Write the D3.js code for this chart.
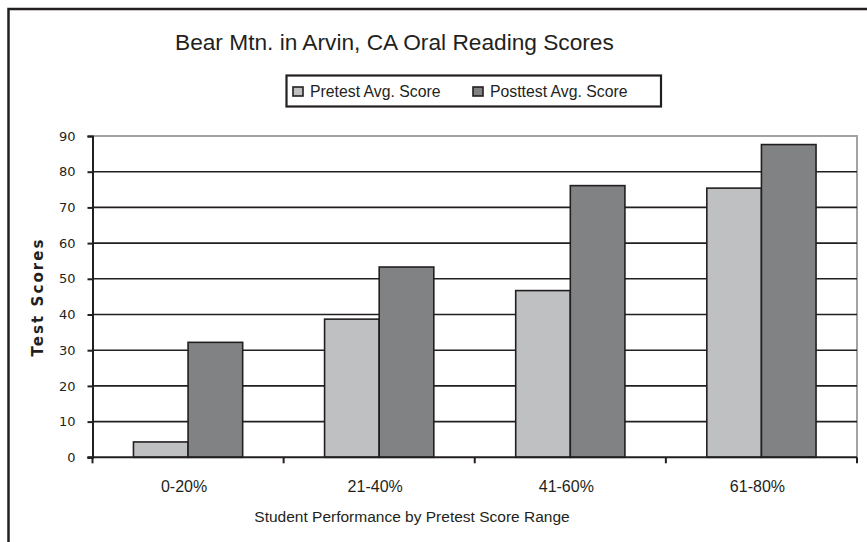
<!DOCTYPE html>
<html>
<head>
<meta charset="utf-8">
<script src="https://cdn.jsdelivr.net/npm/d3@7/dist/d3.min.js"></script>
<style>
  html, body { margin: 0; padding: 0; background: #fff; }
  svg { display: block; }
  text { fill: #231f20; }
</style>
</head>
<body>
<svg id="chart" width="867" height="542"></svg>
<script>
// Score ranges and average scores per series
const categories = ["0-20%", "21-40%", "41-60%", "61-80%"];
const seriesNames = ["Pretest Avg. Score", "Posttest Avg. Score"];
const pretest = [4.3, 38.7, 46.7, 75.4];
const posttest = [32.2, 53.3, 76.1, 87.6];
const yTicks = [0, 10, 20, 30, 40, 50, 60, 70, 80, 90];
const titleText = "Bear Mtn. in Arvin, CA Oral Reading Scores";
const xTitle = "Student Performance by Pretest Score Range";
const yTitle = "Test Scores";

const seriesColors = ["#bfc0c2", "#818284"];
const ink = "#231f20";
const font = "'Liberation Sans', Arial, sans-serif";

const svg = d3.select("#chart");

// Outer frame
svg.append("rect")
  .attr("x", 8.5).attr("y", 9)
  .attr("width", 880).attr("height", 560)
  .attr("fill", "none").attr("stroke", ink).attr("stroke-width", 2.5);

const plot = { left: 92.5, right: 857, top: 136, bottom: 457.3 };

const x = d3.scaleBand().domain(categories).range([plot.left, plot.right]).padding(0);
// Gap width of 150%: two bars share the band with 1.5 bar widths of gap
const barW = x.bandwidth() / 3.5;
const gapOffset = barW * 0.75;
const y = d3.scaleLinear().domain([0, 90]).range([plot.bottom, plot.top]);

// Plot-area border (top and right, grey)
svg.append("path")
  .attr("d", `M${plot.left},${plot.top}H${plot.right}V${plot.bottom}`)
  .attr("fill", "none").attr("stroke", "#a3a3a3").attr("stroke-width", 2);

// Gridlines
svg.append("g").selectAll("line")
  .data(yTicks.filter(t => t > 0 && t < 90))
  .join("line")
  .attr("x1", plot.left).attr("x2", plot.right)
  .attr("y1", d => y(d)).attr("y2", d => y(d))
  .attr("stroke", ink).attr("stroke-width", 1.6);

// Bars
const groups = svg.append("g").selectAll("g")
  .data(categories)
  .join("g")
  .attr("transform", d => `translate(${x(d) + gapOffset},0)`);

[pretest, posttest].forEach((vals, si) => {
  groups.append("rect")
    .attr("x", si * barW)
    .attr("y", (d, i) => y(vals[i]))
    .attr("width", barW)
    .attr("height", (d, i) => y(0) - y(vals[i]))
    .attr("fill", seriesColors[si])
    .attr("stroke", ink).attr("stroke-width", 1.6);
});

// Y axis
const yAxis = svg.append("g")
  .attr("transform", `translate(${plot.left},0)`)
  .call(d3.axisLeft(y).tickValues(yTicks).tickSize(5).tickPadding(12));
yAxis.select(".domain").attr("stroke", ink).attr("stroke-width", 2);
yAxis.selectAll(".tick line").attr("stroke", ink).attr("stroke-width", 2);
yAxis.selectAll(".tick text")
  .attr("font-family", "'DejaVu Sans', sans-serif").attr("font-size", 13)
  .attr("fill", ink);

// X axis with ticks at category boundaries
const xAxis = svg.append("g")
  .attr("transform", `translate(0,${plot.bottom})`);
xAxis.append("line")
  .attr("x1", plot.left - 5).attr("x2", plot.right)
  .attr("stroke", ink).attr("stroke-width", 2);
const bounds = categories.map(c => x(c)).concat([plot.right]);
xAxis.selectAll("line.tick")
  .data(bounds)
  .join("line").attr("class", "tick")
  .attr("x1", d => d).attr("x2", d => d)
  .attr("y1", 0).attr("y2", 6)
  .attr("stroke", ink).attr("stroke-width", 2);
xAxis.selectAll("text")
  .data(categories)
  .join("text")
  .attr("x", d => x(d) + x.bandwidth() / 2 - 4)
  .attr("y", 35)
  .attr("text-anchor", "middle")
  .attr("font-family", font).attr("font-size", 16)
  .text(d => d);

// Titles
svg.append("text")
  .attr("x", 175).attr("y", 50)
  .attr("font-family", font).attr("font-size", 22.7)
  .text(titleText);

svg.append("text")
  .attr("x", 412).attr("y", 522)
  .attr("text-anchor", "middle")
  .attr("font-family", font).attr("font-size", 15.5)
  .text(xTitle);

svg.append("text")
  .attr("transform", `translate(43,298) rotate(-90)`)
  .attr("text-anchor", "middle")
  .attr("font-family", "'DejaVu Sans', sans-serif").attr("font-weight", "bold")
  .attr("font-size", 15)
  .attr("textLength", 117).attr("lengthAdjust", "spacing")
  .text(yTitle);

// Legend
const legend = svg.append("g");
legend.append("rect")
  .attr("x", 286.5).attr("y", 75.5).attr("width", 374.5).attr("height", 31)
  .attr("fill", "#fff").attr("stroke", ink).attr("stroke-width", 2.2);
const legendX = [293, 473];
seriesNames.forEach((name, i) => {
  legend.append("rect")
    .attr("x", legendX[i]).attr("y", 87)
    .attr("width", 10).attr("height", 9)
    .attr("fill", seriesColors[i]).attr("stroke", ink).attr("stroke-width", 1.6);
  legend.append("text")
    .attr("x", legendX[i] + 17).attr("y", 97)
    .attr("font-family", font).attr("font-size", 15.8)
    .text(name);
});
</script>
</body>
</html>
